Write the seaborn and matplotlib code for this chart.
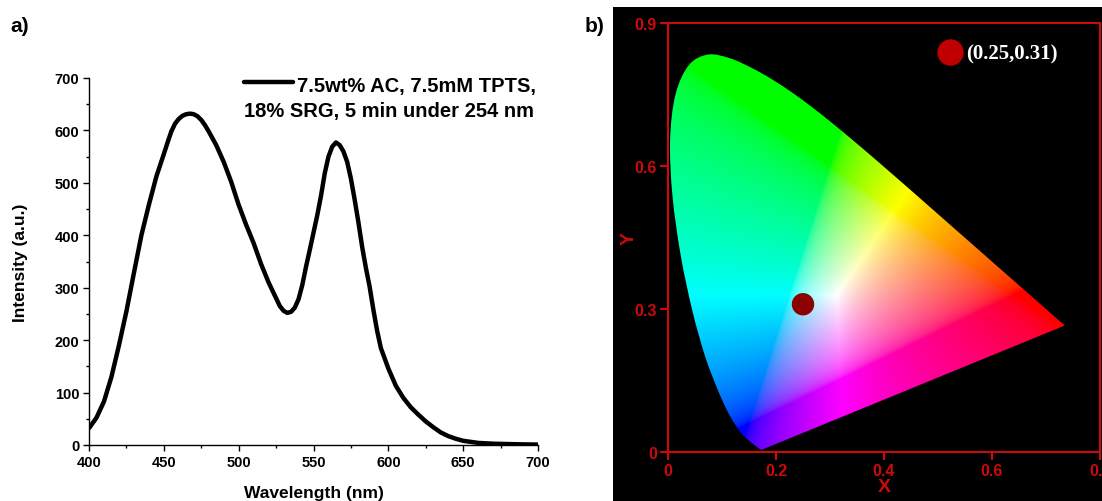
import numpy as np
import pandas as pd
import matplotlib
matplotlib.use("Agg")
import matplotlib.pyplot as plt
import seaborn as sns
from matplotlib.lines import Line2D
from matplotlib.patches import Rectangle, PathPatch
from matplotlib.path import Path
from matplotlib.ticker import MultipleLocator

# ---- emission spectrum ----
wavelength = [400, 405, 410, 415, 420, 425, 430, 435, 440, 445, 450, 452.5, 455, 457.5,
              460, 462.5, 465, 467.5, 470, 472.5, 475, 477.5, 480, 485, 490, 495, 500,
              505, 510, 515, 520, 525, 527.5, 530, 532.5, 535, 537.5, 540, 542.5, 545,
              547.5, 550, 552.5, 555, 557.5, 560, 562.5, 565, 567.5, 570, 572.5, 575,
              577.5, 580, 582.5, 585, 587.5, 590, 592.5, 595, 600, 605, 610, 615, 620,
              625, 630, 635, 640, 645, 650, 655, 660, 670, 680, 690, 700]
intensity = [32, 52, 83, 130, 190, 255, 328, 400, 458, 512, 555, 577, 598, 613,
             622, 628, 631, 632, 631, 627, 620, 610, 598, 572, 540, 502, 458,
             420, 385, 345, 310, 280, 265, 256, 252, 254, 262, 278, 305, 340,
             372, 405, 438, 475, 518, 550, 569, 577, 572, 560, 540, 508,
             468, 425, 378, 338, 302, 258, 218, 185, 146, 113, 90, 72, 58,
             45, 34, 24, 17, 12, 8, 6, 4, 2.5, 1.8, 1.2, 0.8]
legend_line1 = "7.5wt% AC, 7.5mM TPTS,"
legend_line2 = "18% SRG, 5 min under 254 nm"

# ---- CIE 1931 spectral locus (x, y) ----
locus_nm = [380, 400, 420, 430, 440, 450, 460, 465, 470, 475, 480, 485, 490, 495,
            500, 505, 510, 515, 520, 525, 530, 535, 540, 545, 550, 555, 560, 565,
            570, 575, 580, 585, 590, 595, 600, 610, 620, 630, 640, 650, 660, 680, 700]
locus_x = [0.1741, 0.1733, 0.1714, 0.1689, 0.1644, 0.1566, 0.1440, 0.1355, 0.1241,
           0.1096, 0.0913, 0.0687, 0.0454, 0.0235, 0.0082, 0.0039, 0.0139, 0.0389,
           0.0743, 0.1142, 0.1547, 0.1929, 0.2296, 0.2658, 0.3016, 0.3373, 0.3731,
           0.4087, 0.4441, 0.4788, 0.5125, 0.5448, 0.5752, 0.6029, 0.6270, 0.6658,
           0.6915, 0.7079, 0.7190, 0.7260, 0.7300, 0.7334, 0.7347]
locus_y = [0.0050, 0.0048, 0.0051, 0.0069, 0.0109, 0.0177, 0.0297, 0.0399, 0.0578,
           0.0868, 0.1327, 0.2007, 0.2950, 0.4127, 0.5384, 0.6548, 0.7502, 0.8120,
           0.8338, 0.8262, 0.8059, 0.7816, 0.7543, 0.7243, 0.6923, 0.6589, 0.6245,
           0.5896, 0.5547, 0.5202, 0.4866, 0.4544, 0.4242, 0.3965, 0.3725, 0.3340,
           0.3083, 0.2920, 0.2809, 0.2740, 0.2700, 0.2666, 0.2653]
cie_x = [0.25]
cie_y = [0.31]
cie_label = "(0.25,0.31)"
cie_xticks = [0, 0.2, 0.4, 0.6, 0.8]
cie_xticklabels = ["0", "0.2", "0.4", "0.6", "0.8"]
cie_yticks = [0, 0.3, 0.6, 0.9]
cie_yticklabels = ["0", "0.3", "0.6", "0.9"]

sns.set_theme(style="ticks")
plt.rcParams["font.family"] = ["Liberation Sans", "DejaVu Sans"]
plt.rcParams["font.weight"] = "bold"
plt.rcParams["axes.labelweight"] = "bold"
plt.rcParams["text.color"] = "black"
plt.rcParams["axes.labelcolor"] = "black"
plt.rcParams["xtick.color"] = "black"
plt.rcParams["ytick.color"] = "black"

W, H = 1102, 502
fig = plt.figure(figsize=(W / 100, H / 100), dpi=100)
fig.patch.set_facecolor("white")

# ================= panel a =================
ax1 = fig.add_axes([89 / W, 1 - 446 / H, 449 / W, 367 / H])
spec = pd.DataFrame({"Wavelength": wavelength, "Intensity": intensity})
sns.lineplot(data=spec, x="Wavelength", y="Intensity", ax=ax1, color="black",
             lw=3.2, solid_capstyle="round", solid_joinstyle="round")
ax1.set_xlim(400, 700)
ax1.set_ylim(0, 700)
ax1.set_xticks(range(400, 701, 50))
ax1.set_yticks(range(0, 701, 100))
ax1.xaxis.set_minor_locator(MultipleLocator(25))
ax1.yaxis.set_minor_locator(MultipleLocator(50))
ax1.tick_params(which="major", length=4, width=1, direction="out", labelsize=10.5,
                pad=3, color="black", labelcolor="black")
ax1.tick_params(which="minor", length=2.5, width=1, direction="out", color="black")
sns.despine(ax=ax1)
for s in ("left", "bottom"):
    ax1.spines[s].set_linewidth(1)
    ax1.spines[s].set_color("black")
ax1.set_xlabel("Wavelength (nm)", fontsize=12.5, fontweight="bold", color="black")
ax1.set_ylabel("Intensity (a.u.)", fontsize=12.5, fontweight="bold", color="black")
ax1.xaxis.set_label_coords(0.5, -0.11)
ax1.yaxis.set_label_coords(-0.135, 0.5)

fig.add_artist(Line2D([244 / W, 293 / W], [1 - 83 / H, 1 - 83 / H], color="black", lw=3.2))
fig.text(297 / W, 1 - 92 / H, legend_line1, fontsize=14.5, fontweight="bold",
         ha="left", va="baseline", color="black")
fig.text(244 / W, 1 - 117 / H, legend_line2, fontsize=14.5, fontweight="bold",
         ha="left", va="baseline", color="black")
fig.text(10 / W, 1 - 27 / H, "a)", fontsize=15, fontweight="bold", ha="left",
         va="center", color="black")

# ================= panel b =================
fig.patches.append(Rectangle((613 / W, 0), 1 - 613 / W, 1 - 8 / H,
                             transform=fig.transFigure, facecolor="black",
                             edgecolor="none", zorder=-5))
fig.text(585 / W, 1 - 27 / H, "b)", fontsize=15, fontweight="bold", ha="left",
         va="center", color="black")

red = "#CC0A0A"
ax2 = fig.add_axes([668 / W, 1 - 453 / H, 432 / W, 429 / H])
ax2.set_zorder(2)
ax2.set_facecolor("black")
ax2.set_xlim(0, 0.8)
ax2.set_ylim(0, 0.9)

# chromaticity colour field
gx = np.linspace(0, 0.8, 700)
gy = np.linspace(0, 0.9, 760)
GX, GY = np.meshgrid(gx, gy)
safe = np.where(GY > 1e-4, GY, 1e-4)
XYZ = np.stack([GX / safe, np.ones_like(GX), (1 - GX - GY) / safe], axis=-1)
M = np.array([[3.2406, -1.5372, -0.4986],
              [-0.9689, 1.8758, 0.0415],
              [0.0557, -0.2040, 1.0570]])
rgb = np.clip(XYZ @ M.T, 0, None)
rgb = rgb / (rgb.max(axis=-1, keepdims=True) + 1e-12)
rgb = np.where(rgb <= 0.0031308, 12.92 * rgb, 1.055 * np.power(rgb, 1 / 2.4) - 0.055)
rgb = np.clip(rgb, 0, 1)
im = ax2.imshow(rgb, extent=(0, 0.8, 0, 0.9), origin="lower", aspect="auto",
                interpolation="bilinear", zorder=1)

# smooth outline through the locus points (Catmull-Rom as cubic Beziers),
# closed by the straight line of purples
pts = np.column_stack([locus_x, locus_y])
ext = np.vstack([pts[0], pts, pts[-1]])
verts = [tuple(pts[0])]
codes = [Path.MOVETO]
for i in range(1, len(ext) - 2):
    p0, p1, p2, p3 = ext[i - 1], ext[i], ext[i + 1], ext[i + 2]
    c1 = p1 + (p2 - p0) / 6.0
    c2 = p2 - (p3 - p1) / 6.0
    verts += [tuple(c1), tuple(c2), tuple(p2)]
    codes += [Path.CURVE4] * 3
verts += [tuple(pts[0]), tuple(pts[0])]
codes += [Path.LINETO, Path.CLOSEPOLY]
gamut = PathPatch(Path(verts, codes), transform=ax2.transData,
                  facecolor="none", edgecolor="none")
ax2.add_patch(gamut)
im.set_clip_path(gamut)

sns.scatterplot(x=cie_x, y=cie_y, ax=ax2, s=260, color="#8B0000", edgecolor="none",
                zorder=3, legend=False)
handle = Line2D([], [], marker="o", ls="", color="#C00000", markersize=19,
                markeredgewidth=0)
leg = ax2.legend([handle], [cie_label], loc="center left",
                 bbox_to_anchor=(0.6, 0.928), frameon=False, handletextpad=0.15,
                 borderpad=0, handlelength=1.2,
                 prop={"family": ["Liberation Serif", "DejaVu Serif"],
                       "weight": "bold", "size": 15})
for t in leg.get_texts():
    t.set_color("white")

ax2.set_xticks(cie_xticks)
ax2.set_xticklabels(cie_xticklabels)
ax2.set_yticks(cie_yticks)
ax2.set_yticklabels(cie_yticklabels)
for s in ax2.spines.values():
    s.set_color(red)
    s.set_linewidth(1.5)
    s.set_visible(True)
ax2.tick_params(which="major", length=6, width=1.5, direction="out", color=red,
                labelcolor=red, labelsize=11.5, pad=2)
ax2.set_xlabel("X", color=red, fontsize=14, fontweight="bold", labelpad=0)
ax2.set_ylabel("Y", color=red, fontsize=14, fontweight="bold", labelpad=-2)

fig.savefig("out.png", dpi=100, facecolor="white")
